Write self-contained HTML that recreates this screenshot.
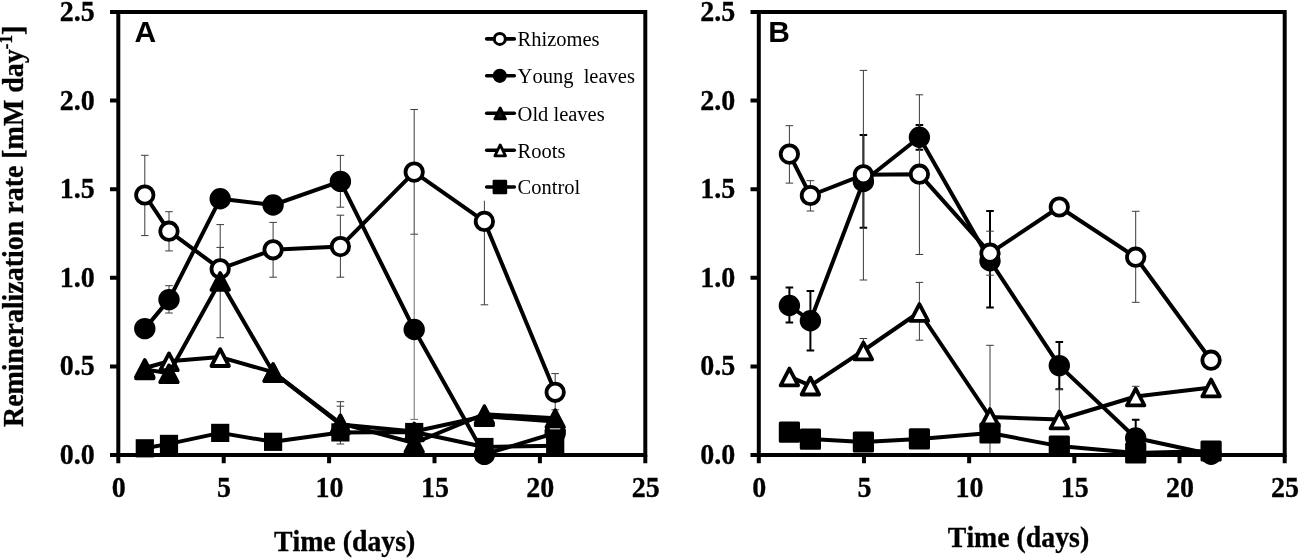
<!DOCTYPE html>
<html lang="en"><head><meta charset="utf-8"><title>Remineralization rate</title>
<style>
html,body{margin:0;padding:0;background:#fff}
svg{display:block;filter:grayscale(1)}
text{font-kerning:none;fill:#000}
.tk,.ax{font-family:"Liberation Serif","Times New Roman",serif;font-weight:700;font-size:28px;stroke:#000;stroke-width:.3px}
.ax{font-size:27.8px}
.sup{font-size:17px}
.lg{font-family:"Liberation Serif","Times New Roman",serif;font-size:20.5px}
.pl{font-family:"Liberation Sans",Arial,sans-serif;font-weight:700;font-size:30px}
.ln{fill:none;stroke:#000;stroke-width:4;stroke-linejoin:round;stroke-linecap:round}
.eb{fill:none;stroke:#3c3c3c;stroke-width:1}
.eb2{fill:none;stroke:#6e6e6e;stroke-width:1}
.ebw{fill:none;stroke:#d0d0d0;stroke-width:1.2}
.ebk{fill:none;stroke:#000;stroke-width:2}
</style></head><body>
<svg width="1299" height="559" viewBox="0 0 1299 559">
<rect width="1299" height="559" fill="#fff"/>
<g id="panelA">
<path class="eb" d="M144.8 155.3V235.6M141 155.3H148.6M141 235.6H148.6"/>
<path class="eb" d="M169 211.7V250.9M165.2 211.7H172.8M165.2 250.9H172.8"/>
<path class="eb" d="M220.2 247.4V290.5M216.4 247.4H224M216.4 290.5H224"/>
<path class="eb" d="M273.1 222.4V277.2M269.3 222.4H276.9M269.3 277.2H276.9"/>
<path class="eb" d="M340.4 215.2V277.2M336.6 215.2H344.2M336.6 277.2H344.2"/>
<path class="eb" d="M414.2 109.5V234.2M410.4 109.5H418M410.4 234.2H418"/>
<path class="eb" d="M484.4 200.5V304.8M480.6 304.8H488.2"/>
<path class="eb" d="M555.2 373.6V409.8M551.4 373.6H559M551.4 409.8H559"/>
<path class="eb" d="M169 285.7V313M165.2 285.7H172.8M165.2 313H172.8"/>
<path class="eb" d="M340.4 155.4V207.2M336.6 155.4H344.2M336.6 207.2H344.2"/>
<path class="eb2" d="M414.2 234.2V419.4M410.4 419.4H418"/>
<path class="eb" d="M340.4 406.2V440M336.6 406.2H344.2"/>
<path class="eb" d="M220.2 224.6V337.7M216.4 224.6H224M216.4 337.7H224"/>
<path class="eb" d="M340.4 401.7V444M336.6 401.7H344.2M336.6 444H344.2"/>
<polyline class="ln" points="144.8,195 169,231.2 220.2,268.9 273.1,249.8 340.4,246.6 414.2,172.1 484.4,221.4 555.2,392.3"/>
<circle cx="144.8" cy="195" r="8.7" fill="#fff" stroke="#000" stroke-width="3.8"/>
<circle cx="169" cy="231.2" r="8.7" fill="#fff" stroke="#000" stroke-width="3.8"/>
<circle cx="220.2" cy="268.9" r="8.7" fill="#fff" stroke="#000" stroke-width="3.8"/>
<circle cx="273.1" cy="249.8" r="8.7" fill="#fff" stroke="#000" stroke-width="3.8"/>
<circle cx="340.4" cy="246.6" r="8.7" fill="#fff" stroke="#000" stroke-width="3.8"/>
<circle cx="414.2" cy="172.1" r="8.7" fill="#fff" stroke="#000" stroke-width="3.8"/>
<circle cx="484.4" cy="221.4" r="8.7" fill="#fff" stroke="#000" stroke-width="3.8"/>
<circle cx="555.2" cy="392.3" r="8.7" fill="#fff" stroke="#000" stroke-width="3.8"/>
<polyline class="ln" points="144.8,328.6 169,299.6 220.2,198.8 273.1,205 340.4,181.4 414.2,329.5 484.4,454.4 555.2,433"/>
<circle cx="144.8" cy="328.6" r="9.2" fill="#000" stroke="#000" stroke-width="3"/>
<circle cx="169" cy="299.6" r="9.2" fill="#000" stroke="#000" stroke-width="3"/>
<circle cx="220.2" cy="198.8" r="9.2" fill="#000" stroke="#000" stroke-width="3"/>
<circle cx="273.1" cy="205" r="9.2" fill="#000" stroke="#000" stroke-width="3"/>
<circle cx="340.4" cy="181.4" r="9.2" fill="#000" stroke="#000" stroke-width="3"/>
<circle cx="414.2" cy="329.5" r="9.2" fill="#000" stroke="#000" stroke-width="3"/>
<circle cx="484.4" cy="454.4" r="9.2" fill="#000" stroke="#000" stroke-width="3"/>
<circle cx="555.2" cy="433" r="9.2" fill="#000" stroke="#000" stroke-width="3"/>
<polyline class="ln" points="144.8,368 169,361.3 220.2,357.1 273.1,372.2 340.4,424.5 414.2,431.5 484.4,416.3 555.2,421.5"/>
<path d="M144.8 360.1L153.55 376.9L136.05 376.9Z" fill="#fff" stroke="#000" stroke-width="3.8" stroke-linejoin="round"/>
<path d="M169 353.4L177.75 370.2L160.25 370.2Z" fill="#fff" stroke="#000" stroke-width="3.8" stroke-linejoin="round"/>
<path d="M220.2 349.2L228.95 366L211.45 366Z" fill="#fff" stroke="#000" stroke-width="3.8" stroke-linejoin="round"/>
<path d="M273.1 364.3L281.85 381.1L264.35 381.1Z" fill="#fff" stroke="#000" stroke-width="3.8" stroke-linejoin="round"/>
<path d="M340.4 416.6L349.15 433.4L331.65 433.4Z" fill="#fff" stroke="#000" stroke-width="3.8" stroke-linejoin="round"/>
<path d="M414.2 423.6L422.95 440.4L405.45 440.4Z" fill="#fff" stroke="#000" stroke-width="3.8" stroke-linejoin="round"/>
<path d="M484.4 408.4L493.15 425.2L475.65 425.2Z" fill="#fff" stroke="#000" stroke-width="3.8" stroke-linejoin="round"/>
<path d="M555.2 413.6L563.95 430.4L546.45 430.4Z" fill="#fff" stroke="#000" stroke-width="3.8" stroke-linejoin="round"/>
<polyline class="ln" points="144.8,369.4 169,373.3 220.2,281 273.1,372.2 340.4,423.4 414.2,443 484.4,414.2 555.2,418.2"/>
<path d="M144.8 361.5L153.55 378.3L136.05 378.3Z" fill="#000" stroke="#000" stroke-width="3.8" stroke-linejoin="round"/>
<path d="M169 365.4L177.75 382.2L160.25 382.2Z" fill="#000" stroke="#000" stroke-width="3.8" stroke-linejoin="round"/>
<path d="M220.2 273.1L228.95 289.9L211.45 289.9Z" fill="#000" stroke="#000" stroke-width="3.8" stroke-linejoin="round"/>
<path d="M273.1 364.3L281.85 381.1L264.35 381.1Z" fill="#000" stroke="#000" stroke-width="3.8" stroke-linejoin="round"/>
<path d="M340.4 415.5L349.15 432.3L331.65 432.3Z" fill="#000" stroke="#000" stroke-width="3.8" stroke-linejoin="round"/>
<path d="M414.2 435.1L422.95 451.9L405.45 451.9Z" fill="#000" stroke="#000" stroke-width="3.8" stroke-linejoin="round"/>
<path d="M484.4 406.3L493.15 423.1L475.65 423.1Z" fill="#000" stroke="#000" stroke-width="3.8" stroke-linejoin="round"/>
<path d="M555.2 410.3L563.95 427.1L546.45 427.1Z" fill="#000" stroke="#000" stroke-width="3.8" stroke-linejoin="round"/>
<polyline class="ln" points="144.8,448.3 169,443.9 220.2,432.9 273.1,441.8 340.4,432.4 414.2,432 484.4,447 555.2,445.8"/>
<path class="ebw" d="M549.8 428.8H560.3"/>
<rect x="135.7" y="439.2" width="18.2" height="18.2" fill="#000"/>
<rect x="159.9" y="434.8" width="18.2" height="18.2" fill="#000"/>
<rect x="211.1" y="423.8" width="18.2" height="18.2" fill="#000"/>
<rect x="264" y="432.7" width="18.2" height="18.2" fill="#000"/>
<rect x="331.3" y="423.3" width="18.2" height="18.2" fill="#000"/>
<rect x="405.1" y="422.9" width="18.2" height="18.2" fill="#000"/>
<rect x="475.3" y="437.9" width="18.2" height="18.2" fill="#000"/>
<rect x="546.1" y="436.7" width="18.2" height="18.2" fill="#000"/>
<rect x="118.3" y="12" width="527" height="443" fill="none" stroke="#000" stroke-width="4"/>
<path d="M110 455H118.3M118.3 455V463.3M110 366.4H118.3M223.7 455V463.3M110 277.8H118.3M329.1 455V463.3M110 189.2H118.3M434.5 455V463.3M110 100.6H118.3M539.9 455V463.3M110 12H118.3M645.3 455V463.3" stroke="#000" stroke-width="4" fill="none"/>
<text class="tk" transform="translate(94.7 464) scale(1 1.05)" text-anchor="end">0.0</text>
<text class="tk" transform="translate(94.7 375.4) scale(1 1.05)" text-anchor="end">0.5</text>
<text class="tk" transform="translate(94.7 286.8) scale(1 1.05)" text-anchor="end">1.0</text>
<text class="tk" transform="translate(94.7 198.2) scale(1 1.05)" text-anchor="end">1.5</text>
<text class="tk" transform="translate(94.7 109.6) scale(1 1.05)" text-anchor="end">2.0</text>
<text class="tk" transform="translate(94.7 21) scale(1 1.05)" text-anchor="end">2.5</text>
<text class="tk" transform="translate(118.7 497) scale(1 1.05)" text-anchor="middle">0</text>
<text class="tk" transform="translate(224.1 497) scale(1 1.05)" text-anchor="middle">5</text>
<text class="tk" transform="translate(329.5 497) scale(1 1.05)" text-anchor="middle">10</text>
<text class="tk" transform="translate(434.9 497) scale(1 1.05)" text-anchor="middle">15</text>
<text class="tk" transform="translate(540.3 497) scale(1 1.05)" text-anchor="middle">20</text>
<text class="tk" transform="translate(645.7 497) scale(1 1.05)" text-anchor="middle">25</text>
<text class="pl" x="134.4" y="42.4">A</text>
<rect x="480" y="20" width="162" height="180.5" fill="#fff"/>
<path d="M486.7 38.9H514.3" stroke="#000" stroke-width="3.6" stroke-linecap="round"/>
<circle cx="499.8" cy="38.9" r="5.5" fill="#fff" stroke="#000" stroke-width="3"/>
<text class="lg" x="517.6" y="46.3" xml:space="preserve">Rhizomes</text>
<path d="M486.7 75.8H514.3" stroke="#000" stroke-width="3.6" stroke-linecap="round"/>
<circle cx="499.8" cy="75.8" r="5.9" fill="#000" stroke="#000" stroke-width="2.4"/>
<text class="lg" x="517.6" y="83.2" xml:space="preserve">Young  leaves</text>
<path d="M486.7 113.3H514.3" stroke="#000" stroke-width="3.6" stroke-linecap="round"/>
<path d="M500.2 107.9L505.5 118.9L494.9 118.9Z" fill="#111" stroke="#000" stroke-width="2.8" stroke-linejoin="round"/>
<text class="lg" x="517.6" y="120.7" xml:space="preserve">Old leaves</text>
<path d="M486.7 150.3H514.3" stroke="#000" stroke-width="3.6" stroke-linecap="round"/>
<path d="M500.2 144.9L505.5 155.9L494.9 155.9Z" fill="#fff" stroke="#000" stroke-width="2.8" stroke-linejoin="round"/>
<text class="lg" x="517.6" y="157.7" xml:space="preserve">Roots</text>
<path d="M486.7 187H514.3" stroke="#000" stroke-width="3.6" stroke-linecap="round"/>
<rect x="494" y="181.1" width="11.8" height="11.8" fill="#000" stroke="#000" stroke-width="2.8" stroke-linejoin="round"/>
<text class="lg" x="517.6" y="194.4" xml:space="preserve">Control</text>
<text class="ax" transform="translate(344.6 550.8) scale(1 1.03)" text-anchor="middle">Time (days)</text>
<text class="ax" transform="translate(22.9 226.4) rotate(-90) scale(1.005 1.06)" text-anchor="middle">Remineralization rate [mM day<tspan class="sup" dy="-10.5">-1</tspan><tspan dy="10.5">]</tspan></text>
</g>
<g id="panelB">
<path class="ebk" d="M789.4 287.5V322.5M785.6 287.5H793.2M785.6 322.5H793.2"/>
<path class="ebk" d="M810.4 290.9V350.4M806.6 290.9H814.2M806.6 350.4H814.2"/>
<path class="ebk" d="M863.4 135V227.7M859.6 135H867.2M859.6 227.7H867.2"/>
<path class="ebk" d="M919.4 125.1V149.8M915.6 125.1H923.2M915.6 149.8H923.2"/>
<path class="ebk" d="M990 211V307.4M986.2 211H993.8M986.2 307.4H993.8"/>
<path class="ebk" d="M1059.3 342V389.2M1055.5 342H1063.1M1055.5 389.2H1063.1"/>
<path class="ebk" d="M1135.7 419.8V456M1131.9 419.8H1139.5M1131.9 456H1139.5"/>
<path class="eb" d="M789.4 125.7V183.1M785.6 125.7H793.2M785.6 183.1H793.2"/>
<path class="eb" d="M810.4 180.7V211M806.6 180.7H814.2M806.6 211H814.2"/>
<path class="eb" d="M863.4 70.4V280M859.6 70.4H867.2M859.6 280H867.2"/>
<path class="eb" d="M919.4 94.8V254.5M915.6 94.8H923.2M915.6 254.5H923.2"/>
<path class="eb" d="M990 231.2V275.2M986.2 231.2H993.8M986.2 275.2H993.8"/>
<path class="eb" d="M1135.7 211.3V302.3M1131.9 211.3H1139.5M1131.9 302.3H1139.5"/>
<path class="eb" d="M863.4 338.5V356M859.6 338.5H867.2"/>
<path class="eb" d="M919.4 282.4V340.2M915.6 282.4H923.2M915.6 340.2H923.2"/>
<path class="eb" d="M990 345.3V455M986.2 345.3H993.8"/>
<path class="eb" d="M1059.3 389.4V419.5M1055.5 389.4H1063.1"/>
<path class="eb" d="M1135.7 386.3V400M1131.9 386.3H1139.5"/>
<polyline class="ln" points="789.4,305.5 810.4,320.8 863.4,181.5 919.4,137.2 990,260.7 1059.3,365.6 1135.7,438 1211.1,454.2"/>
<circle cx="789.4" cy="305.5" r="9.2" fill="#000" stroke="#000" stroke-width="3"/>
<circle cx="810.4" cy="320.8" r="9.2" fill="#000" stroke="#000" stroke-width="3"/>
<circle cx="863.4" cy="181.5" r="9.2" fill="#000" stroke="#000" stroke-width="3"/>
<circle cx="919.4" cy="137.2" r="9.2" fill="#000" stroke="#000" stroke-width="3"/>
<circle cx="990" cy="260.7" r="9.2" fill="#000" stroke="#000" stroke-width="3"/>
<circle cx="1059.3" cy="365.6" r="9.2" fill="#000" stroke="#000" stroke-width="3"/>
<circle cx="1135.7" cy="438" r="9.2" fill="#000" stroke="#000" stroke-width="3"/>
<circle cx="1211.1" cy="454.2" r="9.2" fill="#000" stroke="#000" stroke-width="3"/>
<polyline class="ln" points="789.4,154.1 810.4,195.5 863.4,174.8 919.4,174.2 990,253.2 1059.3,207 1135.7,257.2 1211.1,360.2"/>
<circle cx="789.4" cy="154.1" r="8.7" fill="#fff" stroke="#000" stroke-width="3.8"/>
<circle cx="810.4" cy="195.5" r="8.7" fill="#fff" stroke="#000" stroke-width="3.8"/>
<circle cx="863.4" cy="174.8" r="8.7" fill="#fff" stroke="#000" stroke-width="3.8"/>
<circle cx="919.4" cy="174.2" r="8.7" fill="#fff" stroke="#000" stroke-width="3.8"/>
<circle cx="990" cy="253.2" r="8.7" fill="#fff" stroke="#000" stroke-width="3.8"/>
<circle cx="1059.3" cy="207" r="8.7" fill="#fff" stroke="#000" stroke-width="3.8"/>
<circle cx="1135.7" cy="257.2" r="8.7" fill="#fff" stroke="#000" stroke-width="3.8"/>
<circle cx="1211.1" cy="360.2" r="8.7" fill="#fff" stroke="#000" stroke-width="3.8"/>
<polyline class="ln" points="789.4,376.5 810.4,385.6 863.4,350.5 919.4,312 990,417 1059.3,419.5 1135.7,396.5 1211.1,387.5"/>
<path d="M789.4 368.6L798.15 385.4L780.65 385.4Z" fill="#fff" stroke="#000" stroke-width="3.8" stroke-linejoin="round"/>
<path d="M810.4 377.7L819.15 394.5L801.65 394.5Z" fill="#fff" stroke="#000" stroke-width="3.8" stroke-linejoin="round"/>
<path d="M863.4 342.6L872.15 359.4L854.65 359.4Z" fill="#fff" stroke="#000" stroke-width="3.8" stroke-linejoin="round"/>
<path d="M919.4 304.1L928.15 320.9L910.65 320.9Z" fill="#fff" stroke="#000" stroke-width="3.8" stroke-linejoin="round"/>
<path d="M990 409.1L998.75 425.9L981.25 425.9Z" fill="#fff" stroke="#000" stroke-width="3.8" stroke-linejoin="round"/>
<path d="M1059.3 411.6L1068.05 428.4L1050.55 428.4Z" fill="#fff" stroke="#000" stroke-width="3.8" stroke-linejoin="round"/>
<path d="M1135.7 388.6L1144.45 405.4L1126.95 405.4Z" fill="#fff" stroke="#000" stroke-width="3.8" stroke-linejoin="round"/>
<path d="M1211.1 379.6L1219.85 396.4L1202.35 396.4Z" fill="#fff" stroke="#000" stroke-width="3.8" stroke-linejoin="round"/>
<polyline class="ln" points="789.4,432.1 810.4,439.1 863.4,442 919.4,438.9 990,433 1059.3,446.1 1135.7,453 1211.1,451"/>
<rect x="780.3" y="423" width="18.2" height="18.2" fill="#000" stroke="#000" stroke-width="3" stroke-linejoin="round"/>
<rect x="801.3" y="430" width="18.2" height="18.2" fill="#000" stroke="#000" stroke-width="3" stroke-linejoin="round"/>
<rect x="854.3" y="432.9" width="18.2" height="18.2" fill="#000" stroke="#000" stroke-width="3" stroke-linejoin="round"/>
<rect x="910.3" y="429.8" width="18.2" height="18.2" fill="#000" stroke="#000" stroke-width="3" stroke-linejoin="round"/>
<rect x="980.9" y="423.9" width="18.2" height="18.2" fill="#000" stroke="#000" stroke-width="3" stroke-linejoin="round"/>
<rect x="1050.2" y="437" width="18.2" height="18.2" fill="#000" stroke="#000" stroke-width="3" stroke-linejoin="round"/>
<rect x="1126.6" y="443.9" width="18.2" height="18.2" fill="#000" stroke="#000" stroke-width="3" stroke-linejoin="round"/>
<rect x="1202" y="441.9" width="18.2" height="18.2" fill="#000" stroke="#000" stroke-width="3" stroke-linejoin="round"/>
<rect x="758.8" y="12" width="525.9" height="443" fill="none" stroke="#000" stroke-width="4"/>
<path d="M750.5 455H758.8M758.8 455V463.3M750.5 366.4H758.8M863.98 455V463.3M750.5 277.8H758.8M969.16 455V463.3M750.5 189.2H758.8M1074.34 455V463.3M750.5 100.6H758.8M1179.52 455V463.3M750.5 12H758.8M1284.7 455V463.3" stroke="#000" stroke-width="4" fill="none"/>
<text class="tk" transform="translate(735.2 464) scale(1 1.05)" text-anchor="end">0.0</text>
<text class="tk" transform="translate(735.2 375.4) scale(1 1.05)" text-anchor="end">0.5</text>
<text class="tk" transform="translate(735.2 286.8) scale(1 1.05)" text-anchor="end">1.0</text>
<text class="tk" transform="translate(735.2 198.2) scale(1 1.05)" text-anchor="end">1.5</text>
<text class="tk" transform="translate(735.2 109.6) scale(1 1.05)" text-anchor="end">2.0</text>
<text class="tk" transform="translate(735.2 21) scale(1 1.05)" text-anchor="end">2.5</text>
<text class="tk" transform="translate(759.2 497) scale(1 1.05)" text-anchor="middle">0</text>
<text class="tk" transform="translate(864.38 497) scale(1 1.05)" text-anchor="middle">5</text>
<text class="tk" transform="translate(969.56 497) scale(1 1.05)" text-anchor="middle">10</text>
<text class="tk" transform="translate(1074.74 497) scale(1 1.05)" text-anchor="middle">15</text>
<text class="tk" transform="translate(1179.92 497) scale(1 1.05)" text-anchor="middle">20</text>
<text class="tk" transform="translate(1285.1 497) scale(1 1.05)" text-anchor="middle">25</text>
<text class="pl" x="768.2" y="42.4">B</text>
<text class="ax" transform="translate(1018.5 547.1) scale(1 1.03)" text-anchor="middle">Time (days)</text>
</g>
</svg>
</body></html>
